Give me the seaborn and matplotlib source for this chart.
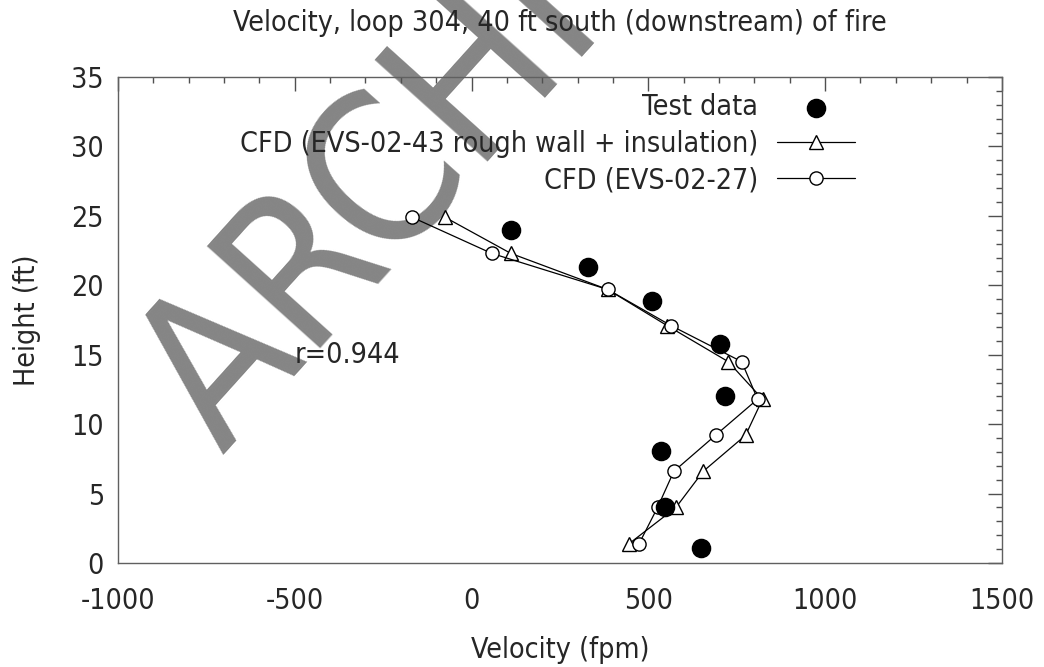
import numpy as np
import pandas as pd
import seaborn as sns
import matplotlib.pyplot as plt
from matplotlib.ticker import MultipleLocator

# values
test_velocity = [111, 329, 510, 702, 717, 535, 547, 649]
test_height = [24.0, 21.3, 18.9, 15.8, 12.0, 8.1, 4.0, 1.1]

cfd_height = [24.9, 22.3, 19.7, 17.1, 14.5, 11.8, 9.2, 6.6, 4.0, 1.4]
cfd43_velocity = [-75, 111, 385, 553, 726, 823, 775, 655, 578, 446]
cfd27_velocity = [-168, 57, 385, 564, 764, 809, 690, 572, 526, 474]

title = 'Velocity, loop 304, 40 ft south (downstream) of fire'
label_test = 'Test data'
label_43 = 'CFD (EVS-02-43 rough wall + insulation)'
label_27 = 'CFD (EVS-02-27)'

sns.set_style('white')
plt.rcParams['font.family'] = ['DejaVu Sans']
plt.rcParams['font.stretch'] = 'condensed'
plt.rcParams['font.size'] = 20.5
plt.rcParams['axes.unicode_minus'] = False

test_df = pd.DataFrame({'velocity': test_velocity, 'height': test_height})
cfd_df = pd.DataFrame({'height': cfd_height, 'v43': cfd43_velocity, 'v27': cfd27_velocity})

fig = plt.figure(figsize=(10.44, 6.67), dpi=100)
ax = fig.add_axes([0.113, 0.1559, 0.8467, 0.7286])
ax.set_zorder(1)
ax.set_facecolor('none')

# grey watermark, sits under the plot and the text
fig.text(222 / 1044, 1 - 455 / 667, 'ARCHIVED', fontsize=150, color='#858585',
         rotation=48, rotation_mode='anchor', ha='left', va='baseline', zorder=0.5)

sns.scatterplot(data=test_df, x='velocity', y='height', ax=ax, color='black',
                edgecolor='black', s=170, marker='o', label=label_test, zorder=4)
sns.lineplot(data=cfd_df, x='v43', y='height', ax=ax, sort=False, estimator=None,
             color='black', lw=0.9, marker='^', ms=10.5, mfc='white', mec='black',
             mew=1.0, label=label_43, zorder=3)
sns.lineplot(data=cfd_df, x='v27', y='height', ax=ax, sort=False, estimator=None,
             color='black', lw=0.9, marker='o', ms=9.5, mfc='white', mec='black',
             mew=1.0, label=label_27, zorder=3)

ax.set_xlim(-1000, 1500)
ax.set_ylim(0, 35)
ax.xaxis.set_major_locator(MultipleLocator(500))
ax.xaxis.set_minor_locator(MultipleLocator(100))
ax.yaxis.set_major_locator(MultipleLocator(5))
ax.yaxis.set_minor_locator(MultipleLocator(1))
ax.tick_params(which='both', direction='in', top=True, right=True, color='#505050', width=1)
ax.tick_params(which='major', length=10)
ax.tick_params(which='minor', length=4.5)
ax.tick_params(axis='x', which='major', pad=17)
ax.tick_params(axis='y', which='major', pad=10)
for sp in ax.spines.values():
    sp.set_color('#606060')
    sp.set_linewidth(1.0)

ax.set_xlabel('Velocity (fpm)')
ax.set_ylabel('Height (ft)')
ax.xaxis.label.set_va('center')
ax.yaxis.label.set_va('center')
ax.xaxis.set_label_coords(0.5, -(650 - 563) / 486)
ax.yaxis.set_label_coords(-(118 - 27) / 884, 0.5)

ax.text(-500, 15, 'r=0.944', ha='left', va='center')
fig.text(560 / 1044, 1 - 23 / 667, title, ha='center', va='center', zorder=2)

ax.legend(loc='upper right', bbox_to_anchor=(0.834, 0.967), frameon=False,
          markerfirst=False, handlelength=2.74, handletextpad=0.68,
          labelspacing=0.3, borderpad=0, borderaxespad=0)

fig.savefig('out.png', dpi=100)
